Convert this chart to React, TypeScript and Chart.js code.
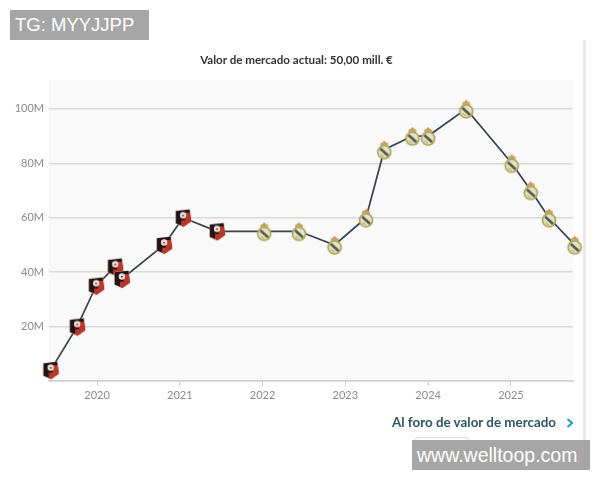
import { useEffect, useRef } from 'react'
import { Chart, registerables } from 'chart.js'

Chart.register(...registerables)

const years = [
  2019.44, 2019.76, 2019.99, 2020.22, 2020.3, 2020.81, 2021.04, 2021.45,
  2022.02, 2022.44, 2022.87, 2023.25, 2023.47, 2023.81, 2024.0, 2024.46,
  2025.01, 2025.24, 2025.46, 2025.77,
]
const marketValues = [
  4, 20, 35, 42, 37.5, 50, 60, 55,
  55, 55, 50, 60, 85, 90, 90, 100,
  80, 70, 60, 50,
]
const clubs = [
  'rennes', 'rennes', 'rennes', 'rennes', 'rennes', 'rennes', 'rennes', 'rennes',
  'madrid', 'madrid', 'madrid', 'madrid', 'madrid', 'madrid', 'madrid', 'madrid',
  'madrid', 'madrid', 'madrid', 'madrid',
]
const yearTicks = [2020, 2021, 2022, 2023, 2024, 2025]
const valueTicks = [0, 20, 40, 60, 80, 100]

const FONT = 'Lato, "Noto Sans", sans-serif'

function makeRennesCrest() {
  const c = document.createElement('canvas')
  c.width = 18
  c.height = 20
  const g = c.getContext('2d')!
  const shield = () => {
    g.beginPath()
    g.moveTo(1.5, 3)
    g.lineTo(16, 1.5)
    g.lineTo(17.5, 14)
    g.lineTo(9.5, 19.5)
    g.lineTo(1.5, 16)
    g.closePath()
  }
  shield()
  g.fillStyle = '#f2b39a'
  g.fill()
  g.save()
  g.translate(0.3, 0.3)
  g.scale(0.95, 0.95)
  shield()
  g.clip()
  g.fillStyle = '#1d1416'
  g.fillRect(0, 0, 18, 21)
  g.fillStyle = '#b9362b'
  g.fillRect(11, 5, 9, 16)
  g.fillRect(7, 13, 12, 8)
  g.restore()
  // emblem
  g.fillStyle = '#f1dedb'
  g.beginPath()
  g.arc(9, 7.5, 3.2, 0, Math.PI * 2)
  g.fill()
  g.fillStyle = '#a8453f'
  g.fillRect(8, 7, 2, 1.5)
  return c
}

function makeMadridCrest() {
  const c = document.createElement('canvas')
  c.width = 18
  c.height = 22
  const g = c.getContext('2d')!
  // crown
  g.fillStyle = '#c9a56c'
  g.beginPath()
  g.ellipse(9, 6, 4, 2.8, 0, 0, Math.PI * 2)
  g.fill()
  g.fillStyle = '#b98f60'
  g.fillRect(8, 2.5, 2, 2)
  // ball
  g.beginPath()
  g.arc(9, 13.5, 6.5, 0, Math.PI * 2)
  g.fillStyle = '#e6e3c4'
  g.fill()
  g.lineWidth = 1.7
  g.strokeStyle = '#aca65c'
  g.stroke()
  g.save()
  g.beginPath()
  g.arc(9, 13.5, 5.4, 0, Math.PI * 2)
  g.clip()
  g.strokeStyle = '#4f5a4a'
  g.lineWidth = 2.6
  g.beginPath()
  g.moveTo(4, 9)
  g.lineTo(14, 18)
  g.stroke()
  g.strokeStyle = '#bdb574'
  g.lineWidth = 1.3
  g.beginPath()
  g.moveTo(5.5, 15.5)
  g.lineTo(9, 18.5)
  g.stroke()
  g.restore()
  return c
}

const plotBackground = {
  id: 'plotBackground',
  beforeDraw(chart: Chart) {
    const { ctx, chartArea: a } = chart
    ctx.save()
    ctx.fillStyle = '#f9f9f9'
    ctx.fillRect(a.left, a.top, a.right - a.left, a.bottom - a.top)
    ctx.restore()
  },
}

export default function App() {
  const chartRef = useRef<HTMLCanvasElement>(null)

  useEffect(() => {
    if (!chartRef.current) return
    const rennes = makeRennesCrest()
    const madrid = makeMadridCrest()

    const chart = new Chart(chartRef.current, {
      type: 'line',
      data: {
        datasets: [{
          data: years.map((year, i) => ({ x: year, y: marketValues[i] })),
          borderColor: '#37424c',
          borderWidth: 1.7,
          tension: 0,
          clip: false,
          pointStyle: (ctx: any) => clubs[ctx.dataIndex] === 'rennes' ? rennes : madrid,
        }],
      },
      plugins: [plotBackground],
      options: {
        responsive: false,
        animation: false,
        layout: { padding: { left: 10, right: 27, top: 80, bottom: 79 } },
        plugins: {
          legend: { display: false },
          tooltip: { enabled: false },
        },
        scales: {
          x: {
            type: 'linear',
            min: 2019.42,
            max: 2025.75,
            afterBuildTicks: (axis: any) => {
              axis.ticks = yearTicks.map(value => ({ value }))
            },
            afterFit: (axis: any) => { axis.height = 20 },
            grid: { drawOnChartArea: false, tickLength: 5, color: '#cccccc' },
            border: { color: '#cfcfcf', width: 1.5 },
            ticks: {
              autoSkip: false,
              maxRotation: 0,
              padding: 3,
              color: '#8a8a8a',
              font: { family: FONT, size: 11 },
              callback: (value: any) => String(value),
            },
          },
          y: {
            min: 0,
            max: 110.6,
            afterBuildTicks: (axis: any) => {
              axis.ticks = valueTicks.map(value => ({ value }))
            },
            afterFit: (axis: any) => { axis.width = 39 },
            grid: { color: '#d9d9d9', lineWidth: 1.5, drawTicks: false },
            border: { display: false },
            ticks: {
              padding: 5,
              color: '#8a8a8a',
              font: { family: FONT, size: 11 },
              callback: (value: any) => (value === 0 ? '' : value + 'M'),
            },
          },
        },
      },
    } as any)

    return () => chart.destroy()
  }, [])

  return (
    <div style={{ position: 'absolute', left: 0, top: 0, width: 600, height: 480, background: '#fff', overflow: 'hidden' }}>
      <canvas ref={chartRef} width={600} height={480} style={{ display: 'block', filter: 'blur(0.35px)' }} />
      <div style={{ position: 'absolute', left: 96.5, top: 52, width: 400, textAlign: 'center', fontFamily: FONT, fontWeight: 700, fontSize: 11.6, lineHeight: '16px', color: '#333333', whiteSpace: 'nowrap' }}>
        Valor de mercado actual: 50,00 mill. €
      </div>
      <div style={{ position: 'absolute', left: 583, top: 40, width: 3, height: 400, background: '#e9e9e9' }} />
      <div style={{ position: 'absolute', left: 392, top: 414, fontFamily: FONT, fontWeight: 700, fontSize: 13.4, lineHeight: '17px', color: '#2f5566', whiteSpace: 'nowrap' }}>
        Al foro de valor de mercado
      </div>
      <svg style={{ position: 'absolute', left: 566, top: 418 }} width="8" height="10">
        <path d="M1.5 1 L6 5 L1.5 9" fill="none" stroke="#2a9bb0" strokeWidth="2" />
      </svg>
      <div style={{ position: 'absolute', left: 415, top: 437, width: 52, height: 10, border: '1px solid #dddddd', borderRadius: 3 }} />
      <div style={{ position: 'absolute', left: 10, top: 10, width: 139, height: 30, background: '#a6a6a6', color: '#fff', fontFamily: '"Liberation Sans", sans-serif', fontSize: 18.5, lineHeight: '30px', paddingLeft: 5, boxSizing: 'border-box', whiteSpace: 'nowrap' }}>
        TG: MYYJJPP
      </div>
      <div style={{ position: 'absolute', left: 412, top: 440, width: 178, height: 30, background: '#a6a6a6', color: '#fff', fontFamily: '"Liberation Sans", sans-serif', fontSize: 19.5, lineHeight: '30px', paddingLeft: 5, boxSizing: 'border-box', whiteSpace: 'nowrap' }}>
        www.welltoop.com
      </div>
    </div>
  )
}
